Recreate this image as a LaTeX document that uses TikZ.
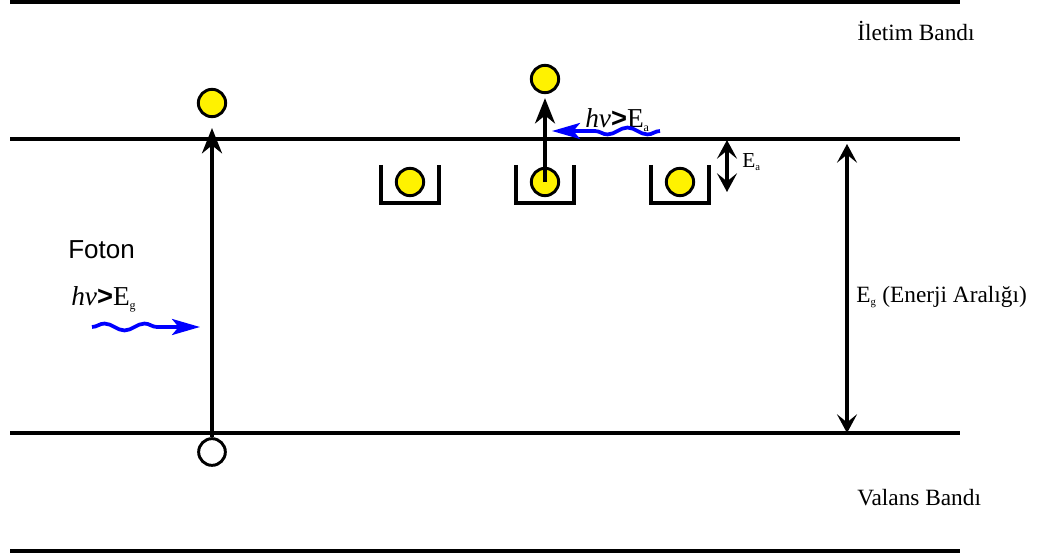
\documentclass[tikz,border=0pt]{standalone}
\usepackage{fontspec}
\setmainfont{Liberation Serif}
\setsansfont{Liberation Sans}
\usetikzlibrary{arrows.meta,decorations.pathmorphing}

\begin{document}
\begin{tikzpicture}[x=0.75pt,y=-0.75pt,
band/.style={line width=2.6pt},
arrow/.style={-{Stealth[length=19pt,width=15pt,inset=6pt]},line width=2.6pt},
darrow/.style={{Stealth[length=14pt,width=15pt,inset=6pt]}-{Stealth[length=14pt,width=15pt,inset=6pt]},line width=2.6pt},
photon/.style={blue,line width=2.8pt,-{Stealth[length=21pt,width=12pt,inset=5pt]},decorate,
  decoration={snake,amplitude=2.6pt,segment length=30pt,post length=22pt}},
electron/.style={circle,draw,line width=2.2pt,fill=yellow,minimum size=20.5pt,inner sep=0pt},
hole/.style={circle,draw,line width=2.2pt,fill=white,minimum size=20pt,inner sep=0pt},
well/.style={line width=2.6pt},
lbl/.style={font=\fontsize{17.5}{20}\selectfont,inner sep=0pt,anchor=west}
]
\useasboundingbox (0,0) rectangle (1040,560);
% bands
\draw[band] (10,2) -- (960,2);
\draw[band] (10,139) -- (960,139);
\draw[band] (10,433) -- (960,433);
\draw[band] (10,551) -- (960,551);
\node[lbl] (cb) at (857,31) {İletim Bandı};
\node[lbl] (vb) at (857,498) {Valans Bandı};
% band to band excitation
\node[electron] (e1) at (212,103) {};
\node[hole] (h1) at (212,452) {};
\coordinate (e1tip) at (212,128);
\draw[arrow] (h1.north) -- (e1tip);
\node[lbl,font=\sffamily\fontsize{19.5}{22}\selectfont] (foton) at (68,250) {Foton};
\node[lbl,font=\fontsize{20.5}{22}\selectfont] (hvg) at (71,299) {\textit{hv}{\sffamily\bfseries>}E\textsubscript{\fontsize{9}{10}\selectfont g}};
\coordinate (p1s) at (92,327);
\coordinate (p1e) at (200,327);
\draw[photon] (p1s) -- (p1e);
% traps
\foreach \x/\n in {410/t1,545/t2,680/t3}{
  \draw[well] (\x-29,165) |- (\x+29,203) -- (\x+29,165);
  \node[electron] (\n) at (\x,182) {};
}
\node[electron] (e2) at (545,79) {};
\draw[arrow,shorten >=3pt] (t2.center) -- (e2.south);
\node[lbl,font=\fontsize{20.5}{22}\selectfont] (hva) at (585,120) {\textit{hv}{\sffamily\bfseries>}E\textsubscript{\fontsize{9}{10}\selectfont a}};
\coordinate (p2s) at (660,131);
\coordinate (p2e) at (552,131);
\draw[photon] (p2s) -- (p2e);
% energies
\coordinate (eat) at (727,140);
\coordinate (eab) at (727,192);
\draw[darrow] (eat) -- (eab);
\node[lbl,font=\fontsize{16}{18}\selectfont] (ea) at (742,162) {E\textsubscript{\fontsize{8}{9}\selectfont a}};
\coordinate (egt) at (847,144);
\coordinate (egb) at (847,433);
\draw[darrow] (egt) -- (egb);
\node[lbl,font=\fontsize{17.5}{20}\selectfont] (eg) at (856,297) {E\textsubscript{\fontsize{8}{9}\selectfont g} (Enerji Aralığı)};
\end{tikzpicture}
\end{document}
